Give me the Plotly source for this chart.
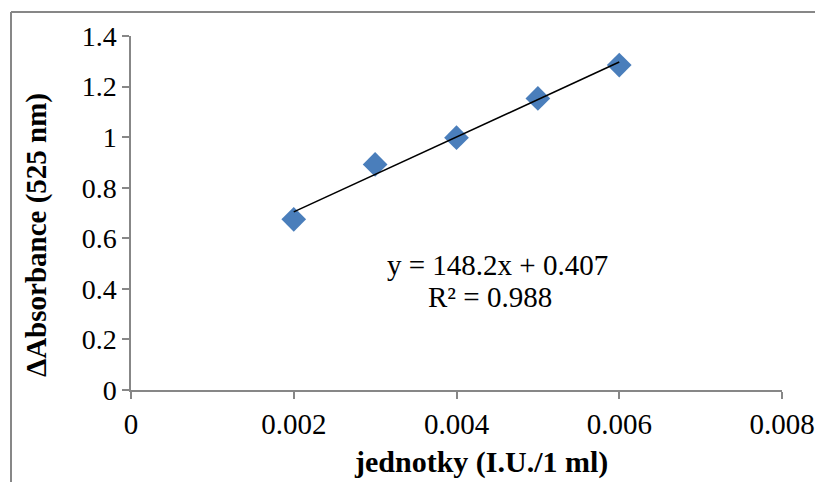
import numpy as np
import plotly.graph_objects as go

x_units = [0.002, 0.003, 0.004, 0.005, 0.006]
delta_abs = [0.675, 0.892, 0.998, 1.153, 1.285]
x_ticks = [0, 0.002, 0.004, 0.006, 0.008]
x_tick_labels = ["0", "0.002", "0.004", "0.006", "0.008"]
y_ticks = [0, 0.2, 0.4, 0.6, 0.8, 1, 1.2, 1.4]
y_tick_labels = ["0", "0.2", "0.4", "0.6", "0.8", "1", "1.2", "1.4"]
equation_line = "y = 148.2x + 0.407"
r2_line = "R² = 0.988"
x_title = "jednotky (I.U./1 ml)"
y_title = "ΔAbsorbance (525 nm)"

slope, intercept = np.polyfit(x_units, delta_abs, 1)
fit_x = [min(x_units), max(x_units)]
fit_y = [slope * v + intercept for v in fit_x]

FONT = "Liberation Serif, Times New Roman, serif"
GRAY = "#878787"

fig = go.Figure()
fig.add_trace(go.Scatter(x=x_units, y=delta_abs, mode="markers",
                         marker=dict(symbol="diamond", size=19, color="#4A7EBB"),
                         showlegend=False))
fig.add_trace(go.Scatter(x=fit_x, y=fit_y, mode="lines",
                         line=dict(color="black", width=1.6), showlegend=False))

# page body has an 8px margin, so the figure starts at (8, 8) of the window
OFF = 8
W, H = 823, 482
L, R, T, B = 131 - OFF, W - (782 - OFF), 36 - OFF, H - (390 - OFF)
pw, ph = W - L - R, H - T - B

def px(xp):
    return (xp - OFF - L) / pw

def py(yp):
    return (H - B - (yp - OFF)) / ph

fig.add_shape(type="line", xref="paper", yref="paper",
              x0=px(11), x1=px(840), y0=py(12), y1=py(12),
              line=dict(color=GRAY, width=2))
fig.add_shape(type="line", xref="paper", yref="paper",
              x0=px(11), x1=px(11), y0=py(12), y1=py(500),
              line=dict(color=GRAY, width=2))

fig.add_annotation(x=0.004504, y=0.494, xref="x", yref="y",
                   text=equation_line, showarrow=False,
                   font=dict(family=FONT, size=29, color="black"))
fig.add_annotation(x=0.00441, y=0.368, xref="x", yref="y",
                   text=r2_line, showarrow=False,
                   font=dict(family=FONT, size=29, color="black"))

fig.add_annotation(x=px(481), y=py(462), xref="paper", yref="paper",
                   text="<b>" + x_title + "</b>", showarrow=False,
                   xanchor="center", yanchor="middle",
                   font=dict(family=FONT, size=30, color="black"))
fig.add_annotation(x=px(36), y=py(235), xref="paper", yref="paper",
                   text="<b>" + y_title + "</b>", showarrow=False, textangle=-90,
                   xanchor="center", yanchor="middle",
                   font=dict(family=FONT, size=29, color="black"))

fig.update_layout(
    width=W, height=H,
    margin=dict(l=L, r=R, t=T, b=B),
    paper_bgcolor="white", plot_bgcolor="white",
    font=dict(family=FONT, size=28, color="black"),
)
fig.update_xaxes(range=[0, 0.008], tickvals=x_ticks, ticktext=x_tick_labels,
                 showgrid=False, zeroline=False, showline=True, linecolor=GRAY,
                 linewidth=1.5, ticks="outside", ticklen=7, tickcolor=GRAY,
                 tickwidth=1.5, tickfont=dict(size=29))
fig.update_yaxes(range=[0, 1.4], tickvals=y_ticks, ticktext=y_tick_labels,
                 showgrid=False, zeroline=False, showline=True, linecolor=GRAY,
                 linewidth=1.5, ticks="outside", ticklen=7, tickcolor=GRAY,
                 tickwidth=1.5, tickfont=dict(size=28))

fig.write_html("out.html")
